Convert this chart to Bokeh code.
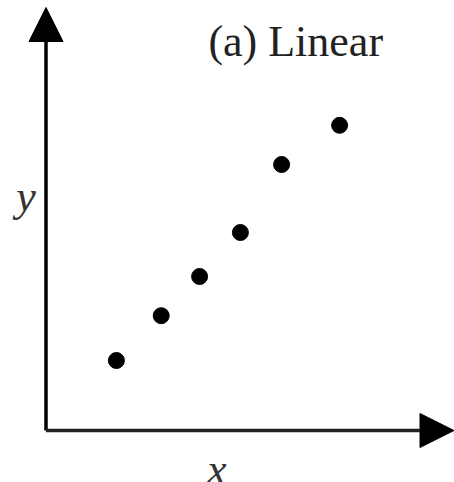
from bokeh.plotting import figure
from bokeh.models import Arrow, NormalHead, Label, Range1d
from bokeh.embed import file_html
from bokeh.resources import INLINE

# data (arbitrary units, origin at the axes' corner)
x_vals = [1.76, 2.88, 3.84, 4.86, 5.89, 7.34]
y_vals = [1.75, 2.87, 3.85, 4.95, 6.65, 7.63]
title_text = "(a) Linear"
x_label = "x"
y_label = "y"

W, H = 454, 482
p = figure(width=W, height=H, output_backend="svg", toolbar_location=None,
           x_range=Range1d(-1.1375, 10.2125), y_range=Range1d(-1.3, 10.75),
           min_border=0)
p.axis.visible = False
p.grid.visible = False
p.outline_line_color = None
p.background_fill_color = "white"
p.border_fill_color = "white"

# axes with arrows
p.add_layout(Arrow(end=NormalHead(size=34, fill_color="black", line_color="black", line_width=1),
                   x_start=0, y_start=0, x_end=0, y_end=10.575,
                   line_width=3.5, line_color="black"))
p.add_layout(Arrow(end=NormalHead(size=34, fill_color="black", line_color="black", line_width=1),
                   x_start=0, y_start=0, x_end=10.2, y_end=0,
                   line_width=3.5, line_color="#222222"))

p.scatter(x_vals, y_vals, size=16, color="black")

p.add_layout(Label(x=4.06, y=9.73, text=title_text, text_font="Liberation Serif",
                   text_font_size="44px", text_color="#222222", text_baseline="alphabetic"))
p.add_layout(Label(x=-0.5, y=5.85, text=y_label, text_font="Liberation Serif",
                   text_font_style="italic", text_font_size="44px", text_color="#333333",
                   text_align="center", text_baseline="alphabetic"))
p.add_layout(Label(x=4.27, y=-0.97, text=x_label, text_font="Liberation Serif",
                   text_font_style="italic", text_font_size="44px", text_color="#333333",
                   text_align="center", text_baseline="alphabetic"))

open("out.html", "w").write(file_html(p, INLINE))
